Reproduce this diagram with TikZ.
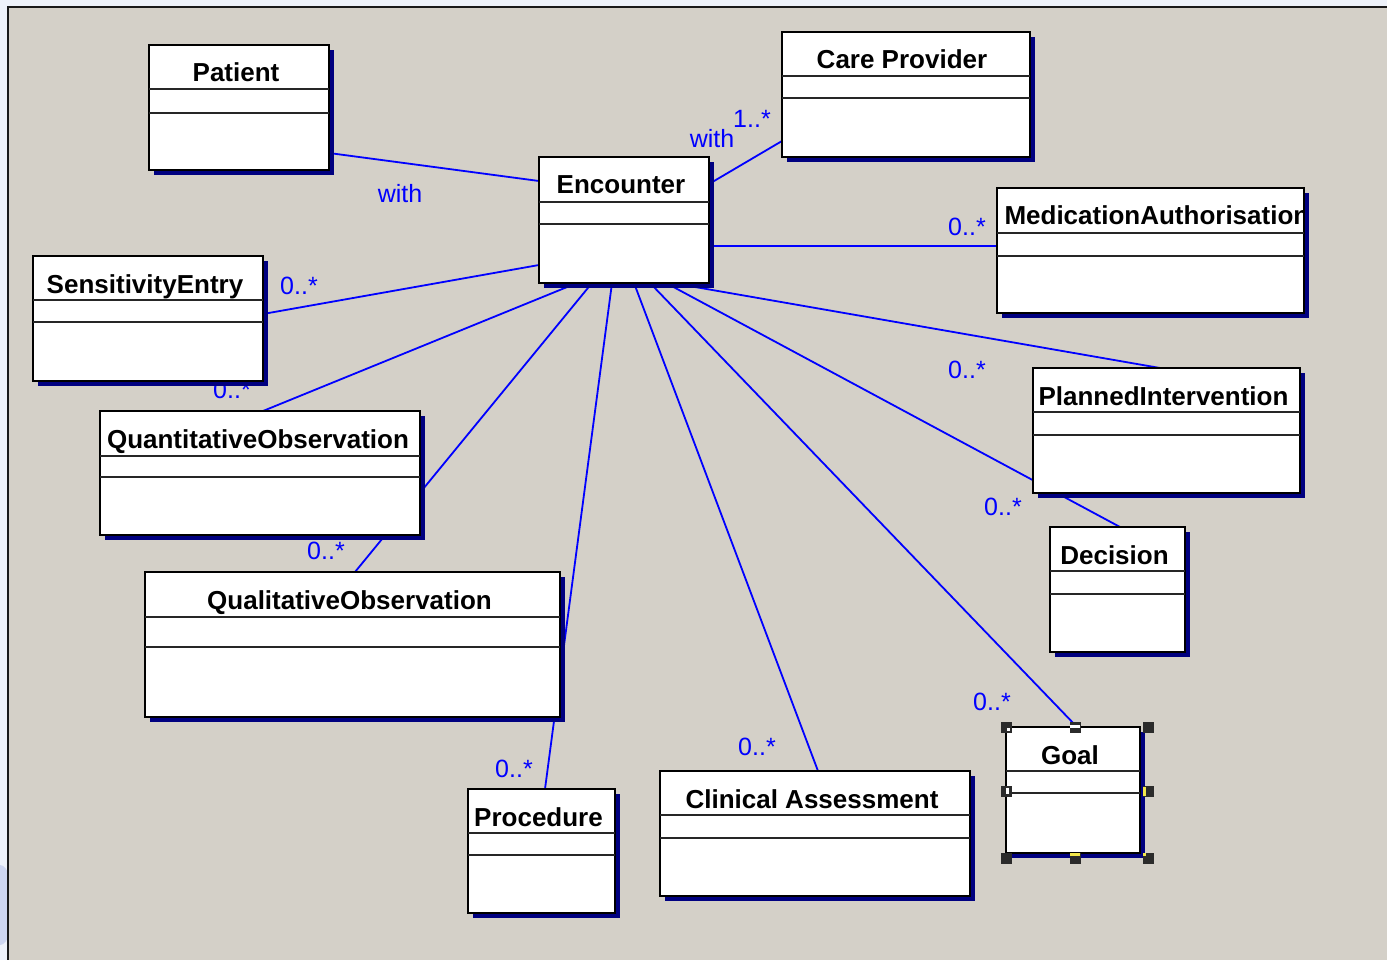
\documentclass[tikz,border=0pt]{standalone}
\usepackage{fontspec}
\setmainfont{Liberation Sans}
\usetikzlibrary{calc}

\pgfdeclarelayer{canvas}
\pgfdeclarelayer{lines}
\pgfdeclarelayer{shadows}
\pgfsetlayers{canvas,lines,shadows,main}

\definecolor{deskc}{HTML}{EEF2FA}
\definecolor{deskblue}{HTML}{B9C4EA}
\definecolor{canvasc}{HTML}{D4D0C8}
\definecolor{assocc}{HTML}{0000FF}
\definecolor{shadowc}{HTML}{000080}
\definecolor{handlec}{HTML}{2B2B2B}
\definecolor{handley}{HTML}{F2E64A}

\tikzset{
  classbox/.style={draw=black, fill=white, line width=2pt, outer sep=0pt, inner sep=0pt},
  rule/.style={draw=black!85, line width=2pt},
  titletext/.style={font=\fontsize{26}{30}\selectfont\bfseries, inner sep=0pt, anchor=base},
  assoc/.style={draw=assocc, line width=1.8pt},
  mult/.style={text=assocc, font=\fontsize{25}{30}\selectfont, inner sep=0pt},
  handle/.style={fill=handlec, minimum size=11pt, inner sep=0pt, outer sep=0pt},
}

% UML class: name, left, top, width, height, first rule, second rule, title shift, title
\newcommand\umlclass[9]{%
  \node[classbox, anchor=north west, minimum width=#4pt, minimum height=#5pt] (#1) at (#2,#3) {};
  \begin{pgfonlayer}{shadows}
    \fill[shadowc] ($(#1.north west)+(5,5)$) rectangle ($(#1.south east)+(5,5)$);
  \end{pgfonlayer}
  \draw[rule] ($(#1.north west)+(0,#6)$) -- ($(#1.north east)+(0,#6)$);
  \draw[rule] ($(#1.north west)+(0,#7)$) -- ($(#1.north east)+(0,#7)$);
  \begin{scope}
    \clip ($(#1.north west)+(1,1)$) rectangle ($(#1.north east)+(-1,#6)$);
    \node[titletext] (#1-title) at ($(#1.north)+(#8,37)$) {#9};
  \end{scope}
}

\begin{document}
\begin{tikzpicture}[x=1pt,y=-1pt]
\useasboundingbox (0,0) rectangle (1387,960);

% desktop and drawing canvas
\begin{pgfonlayer}{canvas}
  \fill[deskc] (0,0) rectangle (1387,960);
  \begin{scope}
    \clip (0,0) rectangle (8,960);
    \fill[deskblue, opacity=0.6] (0,905) ellipse [x radius=14, y radius=40];
  \end{scope}
  \fill[canvasc] (8,7) rectangle (1387,960);
  \draw[line width=2.5pt, black!90] (8,960) -- (8,7) -- (1387,7);
\end{pgfonlayer}

% classes
\umlclass{pat}{149}{45}{180}{125}{44}{68}{-3}{Patient}
\umlclass{enc}{539}{157}{170}{126}{45}{67}{-3}{Encounter}
\umlclass{care}{782}{32}{248}{125}{44}{66}{-4}{Care Provider}
\umlclass{med}{997}{188}{307}{125}{45}{68}{0}{\makebox[292pt][l]{MedicationAuthorisation}}
\umlclass{sens}{33}{256}{230}{125}{44}{66}{-3}{SensitivityEntry}
\umlclass{quan}{100}{411}{320}{124}{45}{66}{-2}{QuantitativeObservation}
\umlclass{qual}{145}{572}{415}{145}{45}{75}{-3}{QualitativeObservation}
\umlclass{proc}{468}{789}{147}{124}{44}{66}{-3}{Procedure}
\umlclass{clin}{660}{771}{310}{125}{44}{67}{-3}{Clinical Assessment}
\umlclass{goal}{1006}{727}{134}{126}{44}{66}{-3}{Goal}
\umlclass{dec}{1050}{527}{135}{125}{44}{67}{-3}{Decision}
\umlclass{plan}{1033}{368}{267}{125}{44}{67}{-3}{PlannedIntervention}

% selection handles on Goal
\foreach \hx/\hy [count=\i] in {0/0, 69/0, 142/0, 0/64, 142/64, 0/131, 69/131, 142/131}
  \node[handle] (gh\i) at ($(goal.north west)+(\hx,\hy)$) {};
\fill[white] ($(gh1.center)+(1,1)$) rectangle ($(gh1.center)+(4,4)$);
\fill[white] ($(gh2.center)+(-5,-2)$) rectangle ($(gh2.center)+(5,1)$);
\fill[white] ($(gh4.center)+(0,-3)$) rectangle ($(gh4.center)+(3,3)$);
\fill[handley] ($(gh5.center)+(-5,-4)$) rectangle ($(gh5.center)+(-2,5)$);
\fill[handley] ($(gh7.center)+(-5,-5)$) rectangle ($(gh7.center)+(5,-2)$);
\fill[handley] ($(gh8.center)+(-5,-5)$) rectangle ($(gh8.center)+(-2,-2)$);

% associations and their labels
\begin{pgfonlayer}{lines}
  \draw[assoc] ($(pat.north west)+(180,108)$) -- ($(enc.north west)+(0,24)$);
  \draw[assoc] ($(enc.north west)+(170,27)$) -- ($(care.north west)+(0,109)$);
  \draw[assoc] ($(enc.north west)+(170,89)$) -- ($(med.north west)+(0,58)$);
  \draw[assoc] ($(enc.north west)+(0,108)$) -- ($(sens.north west)+(230,58)$);
  \draw[assoc] ($(enc.north west)+(38,126)$) -- ($(quan.north west)+(163,0)$);
  \draw[assoc] ($(enc.north west)+(53,126)$) -- ($(qual.north west)+(210,0)$);
  \draw[assoc] ($(enc.north west)+(73,126)$) -- ($(proc.north west)+(77,0)$);
  \draw[assoc] ($(enc.north west)+(95,126)$) -- ($(clin.north west)+(158,0)$);
  \draw[assoc] ($(enc.north west)+(111,126)$) -- ($(goal.north west)+(71,0)$);
  \draw[assoc] ($(enc.north west)+(127,126)$) -- ($(dec.north west)+(70,0)$);
  \draw[assoc] ($(enc.north west)+(133,126)$) -- ($(plan.north west)+(127,0)$);

  \node[mult] (lpat) at (400,194) {with};
  \node[mult] (lcare) at (712,139) {with};
  \node[mult] (mcare) at (752,119) {1..*};
  \node[mult] (mmed) at (967,227) {0..*};
  \node[mult] (msens) at (299,286) {0..*};
  \node[mult] (mquan) at (232,390) {0..*};
  \node[mult] (mqual) at (326,551) {0..*};
  \node[mult] (mproc) at (514,769) {0..*};
  \node[mult] (mclin) at (757,747) {0..*};
  \node[mult] (mgoal) at (992,702) {0..*};
  \node[mult] (mplan) at (967,370) {0..*};
  \node[mult] (mdec) at (1003,507) {0..*};
\end{pgfonlayer}
\end{tikzpicture}
\end{document}
